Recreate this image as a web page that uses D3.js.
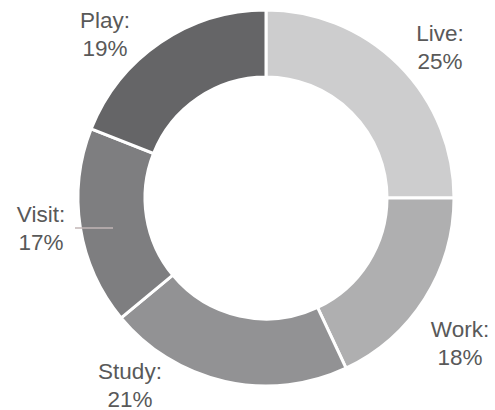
<!DOCTYPE html>
<html>
<head>
<meta charset="utf-8">
<script src="https://cdn.jsdelivr.net/npm/d3@7"></script>
<style>
  body { margin: 0; background: #fff; }
  text { font-family: "Liberation Sans", Arial, sans-serif; }
</style>
</head>
<body>
<svg id="chart"></svg>
<script>
const categories = ["Live", "Work", "Study", "Visit", "Play"];
const values = [25, 18, 21, 17, 19];
const colors = ["#cdcdce", "#afafb0", "#929294", "#7e7e80", "#656567"];

const width = 495;
const height = 410;
const cx = 266, cy = 198;
const outerR = 188, innerR = 121;

// label centres (first line baseline), picked to match the layout
const labelPos = [[440, 41], [460, 337], [130, 379], [41, 222], [105, 28]];

const svg = d3.select("#chart")
    .attr("width", width)
    .attr("height", height);

const data = categories.map((c, i) => ({ cat: c, val: values[i] }));

const pie = d3.pie().value(d => d.val).sort(null);
const arc = d3.arc().innerRadius(innerR).outerRadius(outerR);

const g = svg.append("g").attr("transform", `translate(${cx},${cy})`);

g.selectAll("path")
    .data(pie(data))
    .enter().append("path")
    .attr("d", arc)
    .attr("fill", (d, i) => colors[i])
    .attr("stroke", "#fff")
    .attr("stroke-width", 3);

// leader line for the Visit label
svg.append("line")
    .attr("x1", 75).attr("y1", 228)
    .attr("x2", 113).attr("y2", 228)
    .attr("stroke", "#c2b6b6")
    .attr("stroke-width", 1.5);

const labels = svg.selectAll("text.lbl")
    .data(data)
    .enter().append("text")
    .attr("class", "lbl")
    .attr("text-anchor", "middle")
    .attr("fill", "#595959")
    .attr("font-size", 22.5);

labels.append("tspan")
    .attr("x", (d, i) => labelPos[i][0])
    .attr("y", (d, i) => labelPos[i][1])
    .text(d => d.cat + ":");

labels.append("tspan")
    .attr("x", (d, i) => labelPos[i][0])
    .attr("y", (d, i) => labelPos[i][1] + 27.5)
    .text(d => d.val + "%");
</script>
</body>
</html>
